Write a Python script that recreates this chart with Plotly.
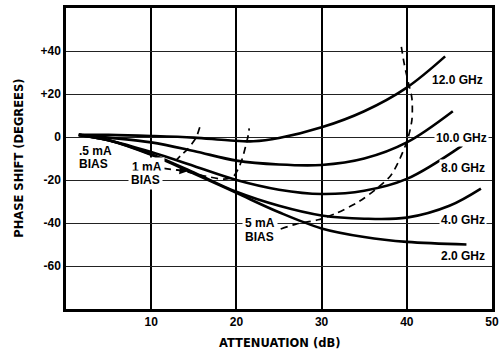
import plotly.graph_objects as go

# Phase shift (degrees) versus attenuation (dB) for each frequency
att_12ghz = [1.5, 5, 10, 15, 19, 22, 25, 30, 35, 40, 44.5]
phase_12ghz = [1, 1, 0.5, -0.3, -1.5, -2, -0.5, 4.5, 12, 23, 37.5]

att_10ghz = [1.5, 5, 10, 15, 20, 25, 30, 35, 40, 45.4]
phase_10ghz = [1, -0.3, -2.5, -6.5, -11, -12.8, -13, -10, -2.5, 12]

att_8ghz = [1.5, 5, 10, 15, 20, 25, 30, 35, 40, 46.5]
phase_8ghz = [1, -1.5, -7, -13.5, -20, -24.5, -26.5, -25, -19.5, -4]

att_4ghz = [1.5, 5, 10, 15, 20, 25, 30, 35, 40, 45, 48.7]
phase_4ghz = [1, -1.5, -8, -16.5, -25.5, -32, -36.5, -38, -37.5, -32, -24]

att_2ghz = [1.5, 5, 10, 15, 20, 25, 30, 35, 40, 47]
phase_2ghz = [1, -1.5, -8.3, -17, -26, -35, -42.5, -46.5, -48.8, -50]

# Constant-bias contours (dashed)
att_bias_05 = [15.7, 15.3, 14.8, 14.2, 13.5, 13.0]
phase_bias_05 = [4.5, 0, -3, -6, -8.5, -10.5]

att_bias_1 = [11.5, 14, 16.5, 18.5, 19.6, 20.2, 20.7, 21.1, 21.4, 21.5]
phase_bias_1 = [-14.6, -16, -18.3, -19.6, -18.5, -15, -10, -4, 1, 4]

att_bias_5 = [25.2, 27, 29.6, 31.7, 34.4, 36.3, 38.1, 39.2, 40.1, 40.6, 40.6, 40.2, 39.7, 39.3]
phase_bias_5 = [-42.8, -40.5, -38.5, -35.5, -30, -24.5, -18, -10, -1, 8, 18, 25, 34, 43.5]

freq_labels = ["12.0 GHz", "10.0 GHz", "8.0 GHz", "4.0 GHz", "2.0 GHz"]
freq_label_x = [46.0, 46.4, 46.6, 46.6, 46.6]
freq_label_y = [26.4, -0.3, -14.5, -38.6, -55.2]

x_ticks = [10, 20, 30, 40, 50]
y_ticks = [-60, -40, -20, 0, 20, 40]
y_tick_text = ["-60", "-40", "-20", "0", "+20", "+40"]

LABEL_FONT = dict(family="Liberation Sans", size=12, color="black", weight="bold")
TITLE_FONT = dict(family="DejaVu Sans", size=11.5, color="black", weight="bold")

fig = go.Figure()

for xs, ys in [(att_12ghz, phase_12ghz), (att_10ghz, phase_10ghz), (att_8ghz, phase_8ghz),
               (att_4ghz, phase_4ghz), (att_2ghz, phase_2ghz)]:
    fig.add_trace(go.Scatter(x=xs, y=ys, mode="lines",
                             line=dict(color="black", width=2.6, shape="spline", smoothing=1.0),
                             hoverinfo="skip", showlegend=False))

for xs, ys in [(att_bias_05, phase_bias_05), (att_bias_1, phase_bias_1), (att_bias_5, phase_bias_5)]:
    fig.add_trace(go.Scatter(x=xs, y=ys, mode="lines",
                             line=dict(color="black", width=1.7, dash="7px,5px", shape="spline", smoothing=0.8),
                             hoverinfo="skip", showlegend=False))

annotations = []
for txt, lx, ly in zip(freq_labels, freq_label_x, freq_label_y):
    annotations.append(dict(x=lx, y=ly, xref="x", yref="y", text=txt, showarrow=False,
                            font=LABEL_FONT, bgcolor="white", borderpad=1))

bias_texts = [(".5 mA", 3.47, -6.3, False), ("BIAS", 3.18, -12.6, False),
              ("1 mA", 9.46, -14.0, True), ("BIAS", 9.35, -19.9, True),
              ("5 mA", 22.74, -39.8, True), ("BIAS", 22.74, -46.3, False)]
for txt, lx, ly, bg in bias_texts:
    annotations.append(dict(x=lx, y=ly, xref="x", yref="y", text=txt, showarrow=False,
                            font=LABEL_FONT, bgcolor="white" if bg else "rgba(0,0,0,0)", borderpad=2))

# arrowhead on the 1 mA leader
annotations.append(dict(x=14.2, y=-16.0, ax=12.8, ay=-15.3, xref="x", yref="y", axref="x", ayref="y",
                        text="", showarrow=True, arrowhead=2, arrowsize=1, arrowwidth=1.5,
                        arrowcolor="black"))

annotations.append(dict(x=0.5, y=-0.1118, xref="paper", yref="paper", text="ATTENUATION (dB)",
                        showarrow=False, font=TITLE_FONT, xanchor="center", yanchor="middle"))
annotations.append(dict(x=-0.111, y=0.5016, xref="paper", yref="paper", text="PHASE SHIFT (DEGREES)",
                        showarrow=False, font=TITLE_FONT, textangle=-90,
                        xanchor="center", yanchor="middle"))

fig.update_layout(
    width=504, height=361,
    margin=dict(l=66, r=6, t=5, b=52),
    paper_bgcolor="white", plot_bgcolor="white",
    annotations=annotations,
    xaxis=dict(range=[0, 50], tickvals=x_ticks, ticktext=[str(v) for v in x_ticks],
               showgrid=True, gridcolor="black", gridwidth=1.6,
               showline=True, linecolor="black", linewidth=2.5, mirror=True,
               zeroline=False, ticks="", tickfont=LABEL_FONT, fixedrange=True),
    yaxis=dict(range=[-80, 60], tickvals=y_ticks, ticktext=y_tick_text,
               showgrid=True, gridcolor="#222222", gridwidth=1,
               showline=True, linecolor="black", linewidth=2.5, mirror=True,
               zeroline=False, ticks="", tickfont=LABEL_FONT, fixedrange=True),
)

fig.write_html("out.html")
